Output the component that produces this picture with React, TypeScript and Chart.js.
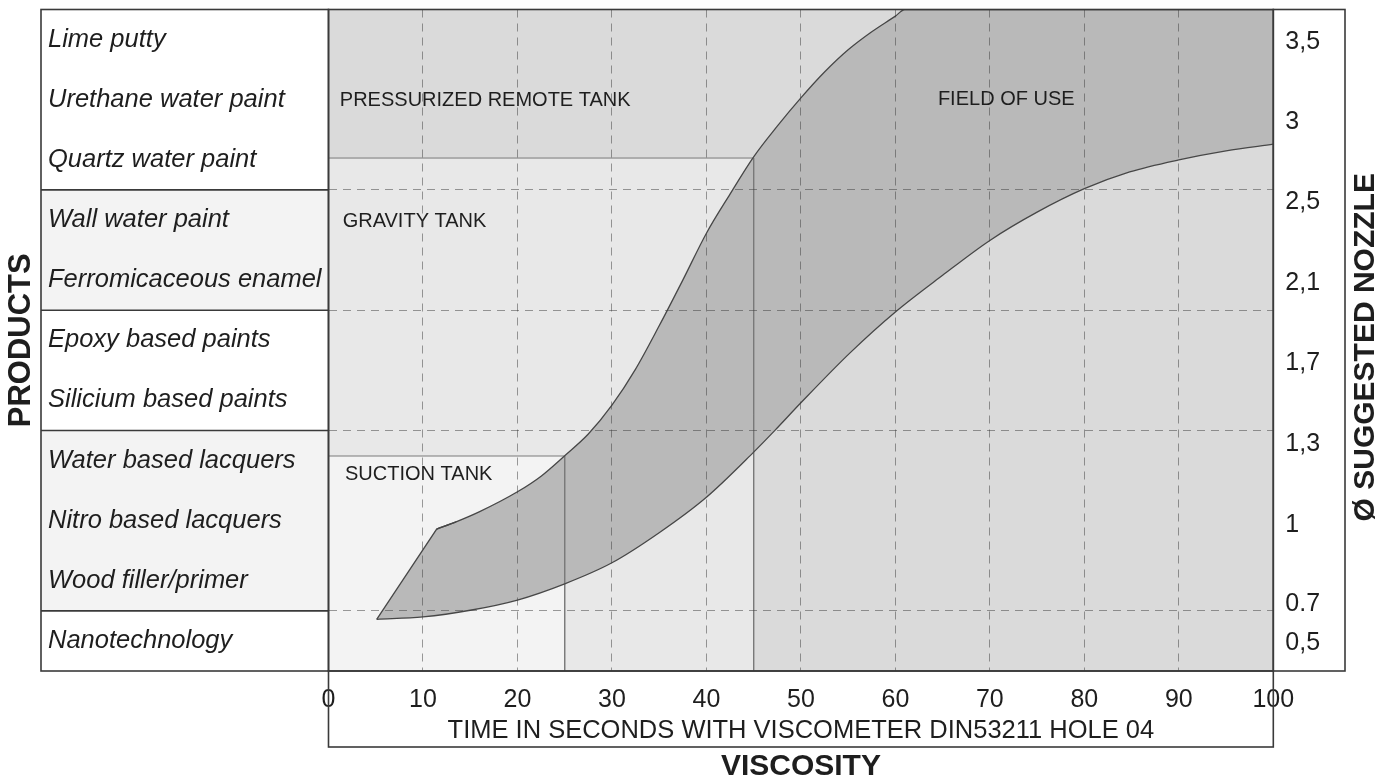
import React, { useEffect, useRef } from "react";
import { Chart, registerables } from "chart.js";

Chart.register(...registerables);

const FONT = "'Liberation Sans', Arial, Helvetica, sans-serif";

// ---- Products (left panel), listed top to bottom, with their row centre (rows counted from the bottom)
const products = [
  "Lime putty",
  "Urethane water paint",
  "Quartz water paint",
  "Wall water paint",
  "Ferromicaceous enamel",
  "Epoxy based paints",
  "Silicium based paints",
  "Water based lacquers",
  "Nitro based lacquers",
  "Wood filler/primer",
  "Nanotechnology",
];
const productRows = [10.5, 9.5, 8.5, 7.5, 6.5, 5.5, 4.5, 3.5, 2.5, 1.5, 0.5];

// product group boundaries (rows) and shaded groups
const groupBoundaries = [1, 4, 6, 8];
const shadedGroupFrom = [1, 6];
const shadedGroupTo = [4, 8];

// ---- Right axis: suggested nozzle diameter
const nozzleLabels = ["3,5", "3", "2,5", "2,1", "1,7", "1,3", "1", "0.7", "0,5"];
const nozzleRows = [10.46, 9.13, 7.79, 6.45, 5.12, 3.78, 2.42, 1.11, 0.46];

// ---- Axes ranges
const timeMin = 0;
const timeMax = 100;
const timeStep = 10;
const rowMin = 0;
const rowMax = 11;

// ---- Field of use band (time in seconds vs row position)
// upper edge: straight start segment (first two points), then the curve
const fieldUpperTime = [5.1, 11.45, 13.5, 16, 20, 22.5, 25, 27.5, 30, 32.5, 35, 37.5, 40, 42.5, 45, 47.5, 50, 52.5, 55, 57.5, 60, 61, 100];
const fieldUpperRow = [0.86, 2.36, 2.48, 2.65, 2.98, 3.24, 3.58, 3.94, 4.42, 5.02, 5.74, 6.5, 7.28, 7.93, 8.55, 9.06, 9.53, 9.96, 10.33, 10.63, 10.89, 11, 11];
const fieldLowerTime = [5.1, 10, 15, 20, 25, 30, 35, 40, 45, 47.3, 50, 55.2, 60, 65, 70, 75, 80, 84.8, 90, 95, 100];
const fieldLowerRow = [0.86, 0.9, 1.01, 1.18, 1.45, 1.8, 2.3, 2.89, 3.64, 4.01, 4.46, 5.29, 5.97, 6.58, 7.16, 7.63, 8.02, 8.3, 8.5, 8.65, 8.76];
const upperKinkIndex = 1;

// ---- Tanks (limit time, top row)
const tankNames = ["SUCTION TANK", "GRAVITY TANK"];
const tankMaxTime = [25, 45];
const tankTopRow = [3.575, 8.53];

// ---- Region labels
const regionLabelText = ["PRESSURIZED REMOTE TANK", "GRAVITY TANK", "SUCTION TANK", "FIELD OF USE"];
const regionLabelTime = [1.2, 1.5, 1.75, 64.5];
const regionLabelRow = [9.49, 7.48, 3.26, 9.51];

const TEXT = "#1e1e1e";
const GRID = "rgba(60,60,60,0.5)";
const LINE = "#3a3a3a";
const BAND = "#b9b9b9";
const BAND_LINE = "#474747";

export default function App() {
  const ref = useRef<HTMLCanvasElement>(null);

  useEffect(() => {
    document.body.style.margin = "0";
    const canvas = ref.current as HTMLCanvasElement;
    const toPts = (xs: number[], ys: number[]) => xs.map((x, i) => ({ x, y: ys[i] }));
    const upperPts = toPts(fieldUpperTime, fieldUpperRow);

    const tankColors = ["#f3f3f3", "#e8e8e8"];
    const tankDatasets = tankNames.map((name, i) => ({
      label: name,
      data: [
        { x: timeMin, y: tankTopRow[i] },
        { x: tankMaxTime[i], y: tankTopRow[i] },
        { x: tankMaxTime[i], y: rowMin },
      ],
      showLine: true,
      fill: "start",
      backgroundColor: tankColors[i],
      borderColor: "#7a7a7a",
      borderWidth: 1,
      pointRadius: 0,
      tension: 0,
    }));

    const framePlugin = {
      id: "frame",
      beforeDraw(chart: any) {
        const { ctx, chartArea: ca, scales } = chart;
        const y = scales.y;
        const panelLeft = y.left - 7;
        ctx.save();
        ctx.fillStyle = "#ffffff";
        ctx.fillRect(0, 0, chart.width, chart.height);
        ctx.fillStyle = "#dadada";
        ctx.fillRect(ca.left, ca.top, ca.right - ca.left, ca.bottom - ca.top);
        ctx.fillStyle = "#f3f3f3";
        shadedGroupFrom.forEach((f, i) => {
          const top = y.getPixelForValue(shadedGroupTo[i]);
          const bot = y.getPixelForValue(f);
          ctx.fillRect(panelLeft, top, ca.left - panelLeft, bot - top);
        });
        ctx.restore();
      },
      afterDatasetsDraw(chart: any) {
        const { ctx, scales } = chart;
        ctx.save();
        ctx.font = `20px ${FONT}`;
        ctx.fillStyle = TEXT;
        ctx.textAlign = "left";
        ctx.textBaseline = "middle";
        regionLabelText.forEach((t, i) => {
          ctx.fillText(t, scales.x.getPixelForValue(regionLabelTime[i]), scales.y.getPixelForValue(regionLabelRow[i]));
        });
        ctx.restore();
      },
      afterDraw(chart: any) {
        const { ctx, chartArea: ca, scales } = chart;
        const y = scales.y;
        const x = scales.x;
        const y2 = scales.y2;
        const panelLeft = y.left - 7;
        ctx.save();
        ctx.strokeStyle = LINE;
        ctx.lineWidth = 1.6;
        ctx.strokeRect(panelLeft, ca.top, ca.left - panelLeft, ca.bottom - ca.top);
        groupBoundaries.forEach((r) => {
          const py = y.getPixelForValue(r);
          ctx.beginPath();
          ctx.moveTo(panelLeft, py);
          ctx.lineTo(ca.left, py);
          ctx.stroke();
        });
        ctx.strokeRect(ca.left, ca.top, ca.right - ca.left, ca.bottom - ca.top);
        ctx.strokeRect(ca.left, ca.bottom, ca.right - ca.left, x.bottom - ca.bottom);
        ctx.strokeRect(ca.right, ca.top, y2.right - ca.right, ca.bottom - ca.top);

        ctx.translate(y2.right + 21, (ca.top + ca.bottom) / 2 + 7);
        ctx.rotate(-Math.PI / 2);
        ctx.font = `bold 30px ${FONT}`;
        ctx.fillStyle = TEXT;
        ctx.textAlign = "center";
        ctx.textBaseline = "middle";
        ctx.fillText("Ø SUGGESTED NOZZLE", 0, 0);
        ctx.restore();
      },
    };

    const chart = new Chart(canvas, {
      type: "scatter",
      data: {
        datasets: [
          {
            label: "Field of use (upper, straight start)",
            data: upperPts.slice(0, upperKinkIndex + 2),
            showLine: true,
            fill: 2,
            backgroundColor: BAND,
            borderColor: BAND_LINE,
            borderWidth: 1.3,
            pointRadius: 0,
            tension: 0,
          },
          {
            label: "Field of use (upper)",
            data: upperPts.slice(upperKinkIndex),
            showLine: true,
            fill: 2,
            backgroundColor: BAND,
            borderColor: BAND_LINE,
            borderWidth: 1.3,
            pointRadius: 0,
            cubicInterpolationMode: "monotone",
          },
          {
            label: "Field of use (lower)",
            data: toPts(fieldLowerTime, fieldLowerRow),
            showLine: true,
            fill: false,
            borderColor: BAND_LINE,
            borderWidth: 1.3,
            pointRadius: 0,
            cubicInterpolationMode: "monotone",
          },
          ...tankDatasets,
        ] as any,
      },
      options: {
        animation: false,
        responsive: false,
        events: [],
        layout: { padding: { top: 9.5, left: 0, right: 49, bottom: 0 } },
        plugins: {
          legend: { display: false },
          tooltip: { enabled: false },
          filler: { drawTime: "beforeDatasetsDraw", propagate: false },
          title: {
            display: true,
            text: "VISCOSITY",
            position: "bottom",
            fullSize: false,
            color: TEXT,
            font: { family: FONT, size: 30, weight: "bold", lineHeight: 1 },
            padding: { top: 5, bottom: 0 },
          },
        },
        scales: {
          x: {
            type: "linear",
            position: "bottom",
            min: timeMin,
            max: timeMax,
            ticks: {
              stepSize: timeStep,
              autoSkip: false,
              maxRotation: 0,
              padding: 14,
              color: TEXT,
              font: { family: FONT, size: 25 },
            },
            grid: {
              color: (c: any) =>
                c.tick && (c.tick.value === timeMin || c.tick.value === timeMax) ? "rgba(0,0,0,0)" : GRID,
              drawTicks: false,
              lineWidth: 1,
              z: 1,
            },
            border: { display: false, dash: [8, 6] },
            title: {
              display: true,
              text: "TIME IN SECONDS WITH VISCOMETER DIN53211 HOLE 04",
              color: TEXT,
              font: { family: FONT, size: 25.5 },
              padding: { top: 0, bottom: 1 },
            },
            afterFit: (s: any) => {
              s.height = 76;
              s.paddingLeft = 0;
              s.paddingRight = 0;
            },
          },
          y: {
            type: "linear",
            position: "left",
            weight: 0,
            min: rowMin,
            max: rowMax,
            afterBuildTicks: (s: any) => {
              s.ticks = productRows.map((v) => ({ value: v }));
            },
            ticks: {
              autoSkip: false,
              crossAlign: "far",
              padding: 0,
              color: TEXT,
              font: { family: FONT, size: 25.5, style: "italic" },
              callback: (v: any) => products[productRows.indexOf(v)],
            },
            grid: { display: false, drawTicks: false },
            border: { display: false },
            afterFit: (s: any) => {
              s.width = 280.5;
              s.paddingTop = 0;
              s.paddingBottom = 0;
            },
          },
          yt: {
            type: "linear",
            position: "left",
            weight: 1,
            min: rowMin,
            max: rowMax,
            afterBuildTicks: (s: any) => {
              s.ticks = groupBoundaries.map((v) => ({ value: v }));
            },
            ticks: { display: false },
            grid: { color: GRID, drawTicks: false, lineWidth: 1, z: 1 },
            border: { display: false, dash: [8, 6] },
            title: {
              display: true,
              text: "PRODUCTS",
              color: TEXT,
              font: { family: FONT, size: 31, weight: "bold" },
              padding: { top: 3, bottom: 0 },
            },
            afterFit: (s: any) => {
              s.width = 48;
              s.paddingTop = 0;
              s.paddingBottom = 0;
            },
          },
          y2: {
            type: "linear",
            position: "right",
            min: rowMin,
            max: rowMax,
            afterBuildTicks: (s: any) => {
              s.ticks = nozzleRows.map((v) => ({ value: v }));
            },
            ticks: {
              autoSkip: false,
              padding: 12,
              color: TEXT,
              font: { family: FONT, size: 25 },
              callback: (v: any) => nozzleLabels[nozzleRows.indexOf(v)],
            },
            grid: { display: false, drawTicks: false },
            border: { display: false },
            afterFit: (s: any) => {
              s.width = 71.7;
              s.paddingTop = 0;
              s.paddingBottom = 0;
            },
          },
        },
      } as any,
      plugins: [framePlugin],
    });

    return () => chart.destroy();
  }, []);

  return (
    <div style={{ width: 1394, height: 782, overflow: "hidden", background: "#fff" }}>
      <canvas ref={ref} width={1394} height={782} style={{ display: "block" }} />
    </div>
  );
}
